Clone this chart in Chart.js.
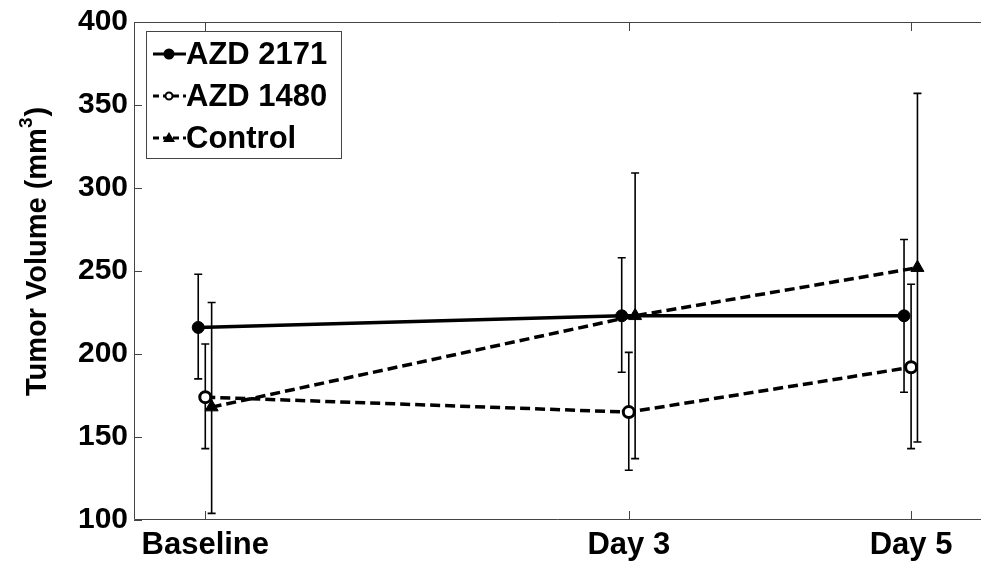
<!DOCTYPE html>
<html>
<head>
<meta charset="utf-8">
<script src="https://cdn.jsdelivr.net/npm/chart.js@4.4.0/dist/chart.umd.min.js"></script>
<style>
  body { margin: 0; background: #fff; }
  canvas { display: block; }
</style>
</head>
<body>
<canvas id="tumorChart" width="981" height="561"></canvas>
<script>
// x categories (days) and tick labels
const categories = ['Baseline', 'Day 3', 'Day 5'];
const days = [0, 3, 5];

// series means
const azd2171 = [216, 223, 223];
const azd1480 = [174, 165, 192];
const control = [168, 223, 252];

// error bar ends
const azd2171Upper = [248, 258, 269];
const azd2171Lower = [185, 189, 177];
const azd1480Upper = [206, 201, 242];
const azd1480Lower = [143, 130, 143];
const controlUpper = [231, 309, 357];
const controlLower = [104, 137, 147];

// small horizontal shift so the error bars don't overlap
const jitter = [-0.05, 0, 0.045];

const yTicks = [100, 150, 200, 250, 300, 350, 400];

const FONT = '"Liberation Sans", Arial, sans-serif';

function points(vals, shift) {
  return vals.map((v, i) => ({ x: days[i] + shift, y: v }));
}

const datasets = [
  {
    label: 'AZD 2171',
    data: points(azd2171, jitter[0]),
    upper: azd2171Upper, lower: azd2171Lower,
    borderColor: '#000', backgroundColor: '#000',
    borderWidth: 3.5, borderDash: [],
    pointStyle: 'circle', pointRadius: 6,
    pointBackgroundColor: '#000', pointBorderColor: '#000', pointBorderWidth: 1
  },
  {
    label: 'AZD 1480',
    data: points(azd1480, jitter[1]),
    upper: azd1480Upper, lower: azd1480Lower,
    borderColor: '#000', backgroundColor: '#fff',
    borderWidth: 3.5, borderDash: [10, 5],
    pointStyle: 'circle', pointRadius: 5.5,
    pointBackgroundColor: '#fff', pointBorderColor: '#000', pointBorderWidth: 3
  },
  {
    label: 'Control',
    data: points(control, jitter[2]),
    upper: controlUpper, lower: controlLower,
    borderColor: '#000', backgroundColor: '#000',
    borderWidth: 3.5, borderDash: [10, 5],
    pointStyle: 'triangle', pointRadius: 7.5,
    pointBackgroundColor: '#000', pointBorderColor: '#000', pointBorderWidth: 1
  }
];

// error bars drawn with the chart's own scales
const errorBars = {
  id: 'errorBars',
  beforeDatasetsDraw(chart) {
    const ctx = chart.ctx;
    const x = chart.scales.x, y = chart.scales.y;
    ctx.save();
    ctx.strokeStyle = '#000';
    ctx.lineWidth = 1.6;
    chart.data.datasets.forEach(ds => {
      ds.data.forEach((p, i) => {
        const px = x.getPixelForValue(p.x);
        const top = y.getPixelForValue(ds.upper[i]);
        const bot = y.getPixelForValue(ds.lower[i]);
        ctx.beginPath();
        ctx.moveTo(px, top); ctx.lineTo(px, bot);
        ctx.moveTo(px - 4, top); ctx.lineTo(px + 4, top);
        ctx.moveTo(px - 4, bot); ctx.lineTo(px + 4, bot);
        ctx.stroke();
      });
    });
    ctx.restore();
  }
};

// axes box (cut off at the right), inward ticks, y title and boxed legend
const frame = {
  id: 'frame',
  afterDraw(chart) {
    const ctx = chart.ctx;
    const a = chart.chartArea;
    const x = chart.scales.x, y = chart.scales.y;
    ctx.save();
    ctx.strokeStyle = '#444';
    ctx.lineWidth = 1;
    ctx.beginPath();
    ctx.moveTo(chart.width, a.top + 0.5);
    ctx.lineTo(a.left + 0.5, a.top + 0.5);
    ctx.lineTo(a.left + 0.5, a.bottom - 0.5);
    ctx.lineTo(chart.width, a.bottom - 0.5);
    yTicks.forEach(v => {
      const py = Math.round(y.getPixelForValue(v)) + 0.5;
      ctx.moveTo(a.left, py); ctx.lineTo(a.left + 8, py);
    });
    days.forEach(d => {
      const px = Math.round(x.getPixelForValue(d)) + 0.5;
      ctx.moveTo(px, a.bottom); ctx.lineTo(px, a.bottom - 9);
      ctx.moveTo(px, a.top); ctx.lineTo(px, a.top + 9);
    });
    ctx.stroke();

    // y axis title with a real superscript
    ctx.save();
    ctx.translate(38, 252);
    ctx.rotate(-Math.PI / 2);
    ctx.fillStyle = '#000';
    ctx.textBaseline = 'middle';
    const main = 'Tumor Volume (mm';
    ctx.font = 'bold 29px ' + FONT;
    const w1 = ctx.measureText(main).width;
    ctx.font = 'bold 19px ' + FONT;
    const w2 = ctx.measureText('3').width;
    ctx.font = 'bold 29px ' + FONT;
    const w3 = ctx.measureText(')').width;
    let sx = -(w1 + w2 + w3) / 2;
    ctx.fillText(main, sx, 0);
    ctx.font = 'bold 19px ' + FONT;
    ctx.fillText('3', sx + w1, -11);
    ctx.font = 'bold 29px ' + FONT;
    ctx.fillText(')', sx + w1 + w2 + 1, 0);
    ctx.restore();

    // legend
    const lx = a.left + 12, ly = a.top + 9, lw = 195, lh = 127;
    ctx.fillStyle = '#fff';
    ctx.fillRect(lx, ly, lw, lh);
    ctx.strokeStyle = '#444';
    ctx.lineWidth = 1;
    ctx.strokeRect(lx + 0.5, ly + 0.5, lw, lh);
    ctx.font = 'bold 31px ' + FONT;
    ctx.textBaseline = 'middle';
    chart.data.datasets.forEach((ds, i) => {
      const cy = ly + 23 + i * 42;
      const lx0 = lx + 7;
      ctx.strokeStyle = '#000';
      ctx.lineWidth = 3;
      ctx.setLineDash(ds.borderDash.length ? [6, 4] : []);
      ctx.beginPath();
      ctx.moveTo(lx0, cy); ctx.lineTo(lx0 + 33, cy);
      ctx.stroke();
      ctx.setLineDash([]);
      ctx.fillStyle = ds.pointBackgroundColor;
      ctx.lineWidth = 2;
      const mx = lx0 + 16;
      ctx.beginPath();
      if (ds.pointStyle === 'triangle') {
        ctx.moveTo(mx, cy - 6); ctx.lineTo(mx + 6, cy + 4); ctx.lineTo(mx - 6, cy + 4); ctx.closePath();
        ctx.fill();
      } else {
        ctx.arc(mx, cy, ds.pointBackgroundColor === '#fff' ? 3.5 : 4.5, 0, Math.PI * 2);
        ctx.fill(); ctx.stroke();
      }
      ctx.fillStyle = '#000';
      ctx.fillText(ds.label, lx0 + 33, cy + 1);
    });
    ctx.restore();
  }
};

function noPad(scale) {
  scale.paddingLeft = 0; scale.paddingRight = 0;
  scale.paddingTop = 0; scale.paddingBottom = 0;
}

new Chart(document.getElementById('tumorChart'), {
  type: 'line',
  data: { datasets },
  options: {
    responsive: false,
    animation: false,
    layout: { padding: { top: 22, right: 0, left: 0, bottom: 0 } },
    plugins: { legend: { display: false }, tooltip: { enabled: false } },
    scales: {
      x: {
        type: 'linear',
        min: -0.505,
        max: 5.435,
        afterBuildTicks(scale) { scale.ticks = days.map(v => ({ value: v })); },
        afterFit(scale) { scale.height = 41; noPad(scale); },
        grid: { display: false, drawTicks: false },
        border: { display: false },
        ticks: {
          padding: 7,
          color: '#000',
          font: { family: FONT, size: 31, weight: 'bold' },
          callback: v => categories[days.indexOf(v)]
        }
      },
      y: {
        min: 100,
        max: 400,
        afterBuildTicks(scale) { scale.ticks = yTicks.map(v => ({ value: v })); },
        afterFit(scale) { scale.width = 134; noPad(scale); },
        grid: { display: false, drawTicks: false },
        border: { display: false },
        ticks: {
          padding: 6,
          color: '#000',
          font: { family: FONT, size: 30, weight: 'bold' }
        }
      }
    }
  },
  plugins: [errorBars, frame]
});
</script>
</body>
</html>
